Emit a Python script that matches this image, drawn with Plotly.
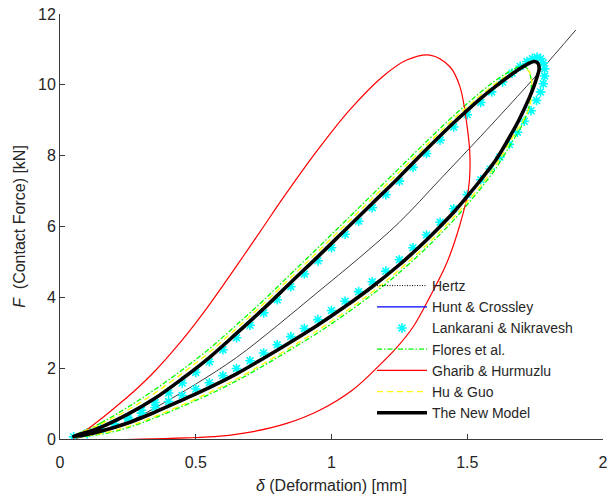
import plotly.graph_objects as go

# ---------------- data ----------------
hertz_d = [0.05, 0.15, 0.25, 0.35, 0.50, 0.65, 0.80, 0.95, 1.10, 1.25, 1.40, 1.55, 1.70, 1.77, 1.90]
hertz_f = [0.00, 0.20, 0.48, 0.88, 1.55, 2.30, 3.20, 4.15, 5.10, 6.12, 7.33, 8.55, 9.80, 10.40, 11.55]

new_d = [0.05, 0.15, 0.25, 0.35, 0.45, 0.55, 0.65, 0.75, 0.85, 0.95, 1.05, 1.15, 1.25, 1.35, 1.45,
         1.50, 1.55, 1.60, 1.65, 1.69, 1.72, 1.745, 1.758, 1.765,
         1.757, 1.745, 1.73, 1.71, 1.69, 1.66, 1.63, 1.60, 1.55, 1.50, 1.45, 1.40, 1.35, 1.30, 1.25,
         1.15, 1.05, 0.95, 0.85, 0.75, 0.65, 0.55, 0.45, 0.35, 0.25, 0.15, 0.05]
new_f = [0.07, 0.33, 0.70, 1.15, 1.70, 2.30, 2.98, 3.68, 4.42, 5.15, 5.90, 6.65, 7.40, 8.18, 8.93,
         9.28, 9.62, 9.93, 10.22, 10.44, 10.58, 10.66, 10.63, 10.48,
         10.22, 9.95, 9.66, 9.32, 9.00, 8.58, 8.18, 7.82, 7.32, 6.85, 6.40, 6.00, 5.62, 5.26, 4.92,
         4.30, 3.74, 3.22, 2.74, 2.28, 1.84, 1.45, 1.10, 0.76, 0.45, 0.22, 0.07]

lank_d = [0.05, 0.10, 0.15, 0.20, 0.25, 0.30, 0.35, 0.40, 0.45, 0.50, 0.55, 0.60, 0.65, 0.70, 0.75,
          0.80, 0.85, 0.90, 0.95, 1.00, 1.05, 1.10, 1.15, 1.20, 1.25, 1.30, 1.35, 1.40, 1.45, 1.50,
          1.55, 1.59, 1.63, 1.665, 1.695, 1.72, 1.74, 1.757, 1.77, 1.78, 1.785, 1.785, 1.78, 1.77,
          1.755, 1.735, 1.71, 1.685, 1.655, 1.62, 1.585, 1.55, 1.50, 1.45, 1.40, 1.35, 1.30, 1.25,
          1.20, 1.15, 1.10, 1.05, 1.00, 0.95, 0.90, 0.85, 0.80, 0.75, 0.70, 0.65, 0.60, 0.55, 0.50,
          0.45, 0.40, 0.35, 0.30, 0.25, 0.20, 0.15, 0.10]
lank_f = [0.06, 0.16, 0.28, 0.43, 0.61, 0.81, 1.03, 1.30, 1.58, 1.88, 2.18, 2.52, 2.86, 3.21, 3.56,
          3.93, 4.30, 4.66, 5.03, 5.40, 5.78, 6.15, 6.53, 6.90, 7.28, 7.67, 8.06, 8.44, 8.81, 9.16,
          9.50, 9.80, 10.08, 10.33, 10.52, 10.66, 10.74, 10.78, 10.74, 10.62, 10.45, 10.25, 10.03, 9.80,
          9.56, 9.27, 8.97, 8.66, 8.32, 7.96, 7.62, 7.32, 6.90, 6.50, 6.12, 5.76, 5.40, 5.06,
          4.74, 4.44, 4.16, 3.89, 3.63, 3.37, 3.12, 2.89, 2.66, 2.43, 2.21, 1.99, 1.79, 1.59, 1.41,
          1.23, 1.06, 0.89, 0.73, 0.57, 0.42, 0.28, 0.16]

flores_d = [0.05, 0.15, 0.25, 0.35, 0.45, 0.55, 0.65, 0.75, 0.85, 0.95, 1.05, 1.15, 1.25, 1.35, 1.45,
            1.50, 1.55, 1.60, 1.645, 1.68, 1.705, 1.725, 1.735, 1.734, 1.725, 1.70, 1.66, 1.63, 1.60,
            1.55, 1.50, 1.45, 1.40, 1.35, 1.25, 1.15, 1.05, 0.95, 0.85, 0.75, 0.65, 0.55, 0.45, 0.35,
            0.25, 0.15, 0.05]
flores_f = [0.07, 0.45, 0.90, 1.40, 1.95, 2.55, 3.22, 3.92, 4.66, 5.40, 6.15, 6.90, 7.65, 8.40, 9.13,
            9.47, 9.80, 10.10, 10.33, 10.48, 10.53, 10.42, 10.15, 9.72, 9.30, 8.84, 8.32, 7.94, 7.58,
            7.08, 6.62, 6.18, 5.78, 5.40, 4.70, 4.08, 3.52, 3.00, 2.53, 2.07, 1.64, 1.26, 0.92, 0.60,
            0.32, 0.13, 0.07]

gharib_d = [0.05, 0.10, 0.16, 0.22, 0.29, 0.35, 0.41, 0.47, 0.53, 0.60, 0.675, 0.75, 0.823, 0.945,
            1.068, 1.191, 1.277, 1.363, 1.436, 1.473, 1.498, 1.510, 1.504, 1.473, 1.424, 1.363, 1.301,
            1.240, 1.179, 1.080, 0.958, 0.835, 0.712, 0.589, 0.466, 0.30, 0.05]
gharib_f = [0.00, 0.27, 0.62, 1.00, 1.47, 1.92, 2.43, 2.98, 3.58, 4.33, 5.16, 6.00, 6.82, 8.12,
            9.30, 10.25, 10.70, 10.84, 10.51, 9.95, 8.91, 7.97, 7.03, 6.05, 4.96, 4.02, 3.17,
            2.58, 2.10, 1.40, 0.82, 0.44, 0.21, 0.08, 0.03, 0.0, 0.0]

huguo_d = [0.05, 0.15, 0.25, 0.35, 0.45, 0.55, 0.65, 0.75, 0.85, 0.95, 1.05, 1.15, 1.25, 1.35, 1.45,
           1.50, 1.55, 1.60, 1.645, 1.68, 1.705, 1.727, 1.737, 1.737, 1.728, 1.71, 1.69, 1.66, 1.63,
           1.60, 1.55, 1.50, 1.45, 1.40, 1.35, 1.25, 1.15, 1.05, 0.95, 0.85, 0.75, 0.65, 0.55, 0.45,
           0.35, 0.25, 0.15, 0.05]
huguo_f = [0.07, 0.42, 0.82, 1.30, 1.85, 2.45, 3.12, 3.82, 4.56, 5.29, 6.04, 6.79, 7.54, 8.30, 9.04,
           9.38, 9.71, 10.01, 10.26, 10.42, 10.48, 10.38, 10.12, 9.72, 9.34, 9.05, 8.80, 8.43, 8.04,
           7.68, 7.16, 6.70, 6.26, 5.86, 5.48, 4.78, 4.15, 3.59, 3.07, 2.59, 2.13, 1.69, 1.31, 0.96,
           0.64, 0.35, 0.15, 0.07]

x_ticks = [0, 0.5, 1, 1.5, 2]
x_tick_text = ["0", "0.5", "1", "1.5", "2"]
y_ticks = [0, 2, 4, 6, 8, 10, 12]

FONT = "Liberation Sans, Arial, Helvetica, sans-serif"
AXC = "#3a3a3a"

fig = go.Figure()
# Hertz: thin solid-looking line in the plot, dotted sample in the legend
fig.add_trace(go.Scatter(x=hertz_d, y=hertz_f, mode="lines", name="Hertz", showlegend=False,
                         legendgroup="hertz",
                         line=dict(color="#3c3c3c", width=1, shape="spline")))
fig.add_trace(go.Scatter(x=[None], y=[None], mode="lines", name="Hertz", legendgroup="hertz",
                         line=dict(color="#000000", width=1, dash="1px,1.5px")))
fig.add_trace(go.Scatter(x=new_d, y=new_f, mode="lines", name="Hunt & Crossley",
                         line=dict(color="#0000ff", width=1.2, shape="spline")))
fig.add_trace(go.Scatter(x=lank_d, y=lank_f, mode="markers", name="Lankarani & Nikravesh",
                         marker=dict(symbol="asterisk-open", size=8, color="#00ffff",
                                     line=dict(color="#00ffff", width=1.6))))
fig.add_trace(go.Scatter(x=flores_d, y=flores_f, mode="lines", name="Flores et al.",
                         line=dict(color="#00ff00", width=1.3, dash="5px,2px,1.5px,2px", shape="spline")))
fig.add_trace(go.Scatter(x=gharib_d, y=gharib_f, mode="lines", name="Gharib & Hurmuzlu",
                         line=dict(color="#ff0000", width=1.2, shape="spline")))
fig.add_trace(go.Scatter(x=huguo_d, y=huguo_f, mode="lines", name="Hu & Guo",
                         line=dict(color="#ffff00", width=1.3, dash="6px,4px", shape="spline")))
fig.add_trace(go.Scatter(x=new_d, y=new_f, mode="lines", name="The New Model",
                         line=dict(color="#000000", width=3.6, shape="spline")))

fig.update_layout(
    width=611, height=494,
    margin=dict(l=60, r=8, t=14, b=55),
    paper_bgcolor="white", plot_bgcolor="white",
    font=dict(family=FONT, size=15, color="#262626"),
    showlegend=True,
    legend=dict(x=(372 - 60) / 543, y=(439 - 270) / 425, xanchor="left", yanchor="top",
                bgcolor="rgba(0,0,0,0)", borderwidth=0, font=dict(size=14, color="#262626"),
                tracegroupgap=0, itemwidth=50),
)
fig.update_xaxes(range=[0, 2], tickvals=x_ticks, ticktext=x_tick_text, showgrid=False, zeroline=False,
                 showline=True, linecolor=AXC, linewidth=1, ticks="inside", ticklen=5, tickcolor=AXC,
                 tickfont=dict(size=16, color="#262626"), ticklabelstandoff=9, automargin=False,
                 title=dict(text="<i>δ</i> (Deformation) [mm]", font=dict(size=16), standoff=12))
fig.update_yaxes(range=[0, 12], tickvals=y_ticks, showgrid=False, zeroline=False,
                 showline=True, linecolor=AXC, linewidth=1, ticks="inside", ticklen=5, tickcolor=AXC,
                 tickfont=dict(size=16, color="#262626"), automargin=False,
                 title=dict(text="<i>F</i>&nbsp; (Contact Force) [kN]", font=dict(size=16), standoff=8))

fig.write_html("out.html")
